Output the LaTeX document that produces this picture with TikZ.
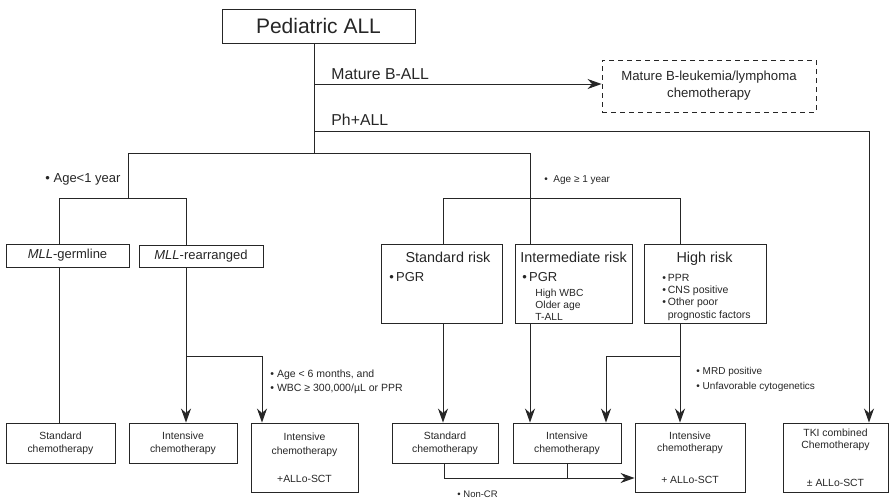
\documentclass[tikz,border=0pt]{standalone}
\usepackage{fontspec}
\setmainfont{Liberation Sans}
\usetikzlibrary{arrows.meta,positioning,calc}

\newcommand{\fsz}[2]{\fontsize{#1}{#2}\selectfont}

\begin{document}
\begin{tikzpicture}[x=1pt,y=-1pt,line width=0.9pt,color=black!85,
    box/.style={draw,inner sep=0pt,align=center,font=\fsz{10.4}{12.7}},
    arr/.style={-{Stealth[length=14pt,width=10pt,inset=4.5pt]}},
    note/.style={inner sep=0pt,align=left}]
    \useasboundingbox (0,0) rectangle (889,501);

    % Root
    \node[box,minimum width=193pt,minimum height=34pt,font=\fsz{21}{24}] (root) at (318.5,26) {Pediatric ALL};

    % Mature B-ALL and Ph+ALL
    \node[box,dashed,dash pattern=on 5pt off 4pt,minimum width=214pt,minimum height=52pt,font=\fsz{13.2}{17}] (matureB) at (709,86) {Mature B-leukemia/lymphoma\\chemotherapy};
    \node[box,minimum width=105pt,minimum height=69pt] (tki) at (835.5,457.5) {TKI combined\\Chemotherapy\\[25pt]± ALLo-SCT};
    \coordinate (trunk) at (314,153);
    \coordinate (mb) at (314,84);
    \coordinate (ph) at (314,131);
    \coordinate (phc) at (869,131);
    \draw (root.south -| trunk) -- (trunk);
    \draw[arr] (mb) -- (mb -| matureB.west);
    \draw[arr] (ph) -- (phc) -- (phc |- tki.north);
    \node[note,anchor=base west,font=\fsz{15.8}{18}] (mbLbl) at (331,79) {Mature B-ALL};
    \node[note,anchor=base west,font=\fsz{15.8}{18}] (phLbl) at (331,125) {Ph+ALL};

    % Age split
    \coordinate (young) at (128,153);
    \coordinate (old) at (530,153);
    \coordinate (yl) at (59,198);
    \coordinate (yr) at (186,198);
    \coordinate (ol) at (443,198);
    \coordinate (or) at (680,198);
    \draw (young) -- (old);
    \draw (young) -- (young |- yl);
    \node[note,anchor=base west,font=\fsz{13}{15}] (ageYoung) at (45,182) {•\ Age<1 year};
    \node[note,anchor=base west,font=\fsz{10}{12}] (ageOld) at (544,182) {•\hspace{0.55em}Age ≥ 1 year};

    % Age < 1 year
    \node[box,minimum width=123pt,minimum height=23pt,font=\fsz{13}{15}] (germ) at (67.5,255.5) {\textit{MLL}-germline};
    \node[box,minimum width=124pt,minimum height=22pt,font=\fsz{13}{15}] (rearr) at (201,256) {\textit{MLL}-rearranged};
    \node[box,minimum width=109pt,minimum height=40pt] (stdL) at (60.5,443) {Standard\\chemotherapy};
    \node[box,minimum width=108pt,minimum height=40pt] (intL) at (183,443) {Intensive\\chemotherapy};
    \node[box,minimum width=107pt,minimum height=69pt,font=\fsz{10.4}{14}] (sctL) at (304.5,457.5) {Intensive\\chemotherapy\\[14pt]+ALLo-SCT};
    \draw (germ.north -| yl) -- (yl) -- (yr) -- (rearr.north -| yr);
    \draw (germ.south -| yl) -- (stdL.north -| yl);
    \draw[arr] (rearr.south -| yr) -- (intL.north -| yr);
    \coordinate (splitL) at (186,356);
    \coordinate (splitLr) at (262,356);
    \draw[arr] (splitL) -- (splitLr) -- (sctL.north -| splitLr);
    \node[note,anchor=north west,font=\fsz{10.5}{14}] (infant) at (270,369.5) {•\ Age < 6 months, and\\•\ WBC ≥ 300,000/µL or PPR};

    % Age >= 1 year
    \node[box,minimum width=121pt,minimum height=79pt] (stdrisk) at (441.5,283.5) {};
    \node[box,minimum width=117pt,minimum height=79pt] (intrisk) at (573.5,283.5) {};
    \node[box,minimum width=122pt,minimum height=79pt] (highrisk) at (705,283.5) {};
    \node[note,anchor=base,font=\fsz{14.4}{16}] (stdHead) at (448,262) {Standard risk};
    \node[note,anchor=base,font=\fsz{14.4}{16}] (intHead) at (573.5,262) {Intermediate risk};
    \node[note,anchor=base,font=\fsz{14.4}{16}] (highHead) at (704.5,262) {High risk};
    \node[note,anchor=base west,font=\fsz{13}{15}] (stdPGR) at (389,281) {•\,PGR};
    \node[note,anchor=base west,font=\fsz{13}{15}] (intPGR) at (522,281) {•\,PGR};
    \node[note,anchor=north west,font=\fsz{10.3}{12}] (intList) at (535,288.5) {High WBC\\Older age\\T-ALL};
    \node[note,anchor=north west,font=\fsz{10.5}{12.4}] (highList) at (662,273.5) {•\,PPR\\•\,CNS positive\\•\,Other poor\\\phantom{•\,}prognostic factors};
    \draw (old) -- (intrisk.north -| old);
    \draw (stdrisk.north -| ol) -- (ol) -- (or) -- (highrisk.north -| or);

    % Treatments
    \node[box,minimum width=106pt,minimum height=40pt] (stdR) at (445,443) {Standard\\chemotherapy};
    \node[box,minimum width=108pt,minimum height=40pt] (intR) at (567,443) {Intensive\\chemotherapy};
    \node[box,minimum width=110pt,minimum height=69pt,font=\fsz{10.4}{12}] (sctR) at (690,457.5) {Intensive\\chemotherapy\\[20pt]+ ALLo-SCT};
    \draw[arr] (stdrisk.south -| ol) -- (stdR.north -| ol);
    \draw[arr] (intrisk.south -| old) -- (intR.north -| old);
    \draw[arr] (highrisk.south -| or) -- (sctR.north -| or);
    \coordinate (splitR) at (680,356);
    \coordinate (splitRl) at (606,356);
    \draw[arr] (splitR) -- (splitRl) -- (intR.north -| splitRl);
    \node[note,anchor=north west,font=\fsz{10}{15}] (mrd) at (696,366.5) {•\ MRD positive\\•\ Unfavorable cytogenetics};

    % Non-CR
    \coordinate (noncr) at (444,478);
    \coordinate (noncrm) at (567,478);
    \draw[arr] (stdR.south -| noncr) -- (noncr) -- (noncr -| sctR.west);
    \draw (intR.south -| noncrm) -- (noncrm);
    \node[note,anchor=base west,font=\fsz{9.5}{11}] (noncrLbl) at (457,497) {•\ Non-CR};
\end{tikzpicture}
\end{document}
